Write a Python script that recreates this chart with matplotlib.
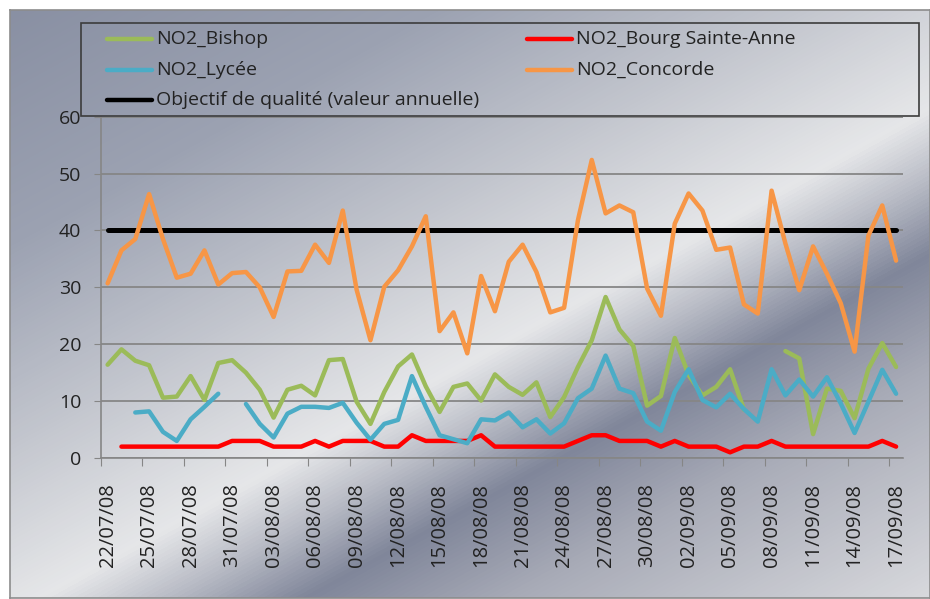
import numpy as np
import pandas as pd
import matplotlib
matplotlib.use("Agg")
import matplotlib.pyplot as plt
from matplotlib.colors import LinearSegmentedColormap
from matplotlib.lines import Line2D
from matplotlib.patches import Rectangle

nan = np.nan

# daily categories 22/07/08 -> 17/09/08
dates = pd.date_range("2008-07-22", "2008-09-17", freq="D")
date_labels = [d.strftime("%d/%m/%y") for d in dates]

bishop = [16.4, 19.1, 17.1, 16.3, 10.6, 10.8, 14.4, 10.2, 16.7, 17.2,
          15.0, 12.0, 7.1, 12.0, 12.7, 11.0, 17.2, 17.4, 9.9, 6.0,
          11.6, 16.1, 18.2, 12.6, 8.1, 12.5, 13.1, 10.1, 14.7, 12.5,
          11.1, 13.3, 7.2, 10.7, 16.0, 20.7, 28.3, 22.6, 19.7, 9.2,
          10.9, 21.1, 14.6, 11.0, 12.5, 15.6, 8.5, nan, nan, 18.8,
          17.5, 4.2, 12.2, 11.8, 7.0, 15.7, 20.2, 16.0]

bourg = [nan, 2, 2, 2, 2, 2, 2, 2, 2, 3,
         3, 3, 2, 2, 2, 3, 2, 3, 3, 3,
         2, 2, 4, 3, 3, 3, 3, 4, 2, 2,
         2, 2, 2, 2, 3, 4, 4, 3, 3, 3,
         2, 3, 2, 2, 2, 1, 2, 2, 3, 2,
         2, 2, 2, 2, 2, 2, 3, 2]

lycee = [nan, nan, 8.0, 8.2, 4.6, 3.0, 6.8, 9.0, 11.3, nan,
         9.5, 6.0, 3.6, 7.8, 9.0, 9.0, 8.8, 9.7, 6.2, 3.2,
         6.0, 6.7, 14.4, 9.0, 4.0, 3.3, 2.6, 6.8, 6.6, 8.0,
         5.4, 6.8, 4.3, 6.1, 10.5, 12.2, 18.0, 12.2, 11.4, 6.4,
         4.8, 11.6, 15.6, 10.2, 8.9, 11.3, 8.6, 6.4, 15.6, 11.0,
         13.8, 10.8, 14.2, 9.6, 4.4, 9.9, 15.5, 11.3]

concorde = [30.7, 36.5, 38.5, 46.4, 38.5, 31.7, 32.4, 36.5, 30.5, 32.5,
            32.7, 30.0, 24.8, 32.8, 32.9, 37.5, 34.3, 43.5, 29.6, 20.7,
            30.1, 33.0, 37.2, 42.5, 22.3, 25.6, 18.4, 32.0, 25.8, 34.5,
            37.5, 32.7, 25.6, 26.4, 41.8, 52.4, 43.0, 44.4, 43.2, 29.8,
            25.0, 41.2, 46.5, 43.5, 36.6, 37.0, 27.0, 25.4, 47.0, 37.7,
            29.5, 37.2, 32.4, 27.2, 18.7, 39.1, 44.4, 34.7]

objectif = [40] * len(dates)

plt.rcParams['font.family'] = ['Open Sans', 'DejaVu Sans']
FS = 14
FS_X = 14.5
TXT = '#222222'

W, H = 930, 599
fig = plt.figure(figsize=(W / 100, H / 100), dpi=100)
fig.patch.set_facecolor('white')


def fx(px):
    return px / W


def fy(py):
    return 1 - py / H


# chrome-like background of the chart area
bg = fig.add_axes([fx(10), fy(598), 920 / W, 588 / H])
xx, yy = np.meshgrid(np.arange(10, 930), np.arange(10, 598))
u = 0.55 * xx + yy
stops = [(0, '#888fa2'), (250, '#9ca2b2'), (450, '#c3c6ce'), (620, '#e6e7e9'),
         (690, '#b8bbc5'), (765, '#80869a'), (880, '#a8abb7'), (1110, '#d8d9dd')]
cmap = LinearSegmentedColormap.from_list('chrome', [(p / 1110, c) for p, c in stops])
bg.imshow(u / 1110, cmap=cmap, vmin=0, vmax=1, aspect='auto', interpolation='bilinear')
bg.set_xticks([])
bg.set_yticks([])
for s in bg.spines.values():
    s.set_color('#8c8c8c')
    s.set_linewidth(1.2)

# plot area
ax = fig.add_axes([fx(100.7), fy(458), (903 - 100.7) / W, (458 - 116.7) / H])
ax.patch.set_alpha(0)
x = np.arange(len(dates))

kw = dict(lw=3.2, solid_joinstyle='round', solid_capstyle='round')
ax.plot(x, objectif, color='black', lw=3.6, zorder=2, solid_capstyle='round')
ax.plot(x, bishop, color='#9bbb59', zorder=3, **kw)
ax.plot(x, bourg, color='#ff0000', zorder=4, **kw)
ax.plot(x, lycee, color='#4bacc6', zorder=5, **kw)
ax.plot(x, concorde, color='#f79646', zorder=6, **kw)

ax.set_xlim(-0.5, len(dates) - 0.5)
ax.set_ylim(0, 60)
ax.set_yticks(range(0, 61, 10))
ax.yaxis.grid(True, color='#868686', lw=1.3)
ax.set_axisbelow(True)

# tick marks between categories, labels centred on categories
ax.set_xticks(np.arange(-0.5, len(dates), 3))
ax.set_xticklabels([])
ax.set_xticks(np.arange(0, len(dates), 3), minor=True)
ax.set_xticklabels(date_labels[::3], minor=True, rotation=90, fontsize=FS_X,
                   color=TXT)
ax.tick_params(axis='x', which='major', direction='out', length=6, color='#868686')
ax.tick_params(axis='x', which='minor', length=0, pad=18)
ax.tick_params(axis='y', direction='out', length=5, color='#868686', pad=9,
               labelsize=FS, labelcolor=TXT)

for side in ('top', 'right'):
    ax.spines[side].set_visible(False)
for side in ('left', 'bottom'):
    ax.spines[side].set_color('#868686')
    ax.spines[side].set_linewidth(1.2)

# legend box
fig.patches.append(Rectangle((fx(81), fy(116)), (919 - 81) / W, (116 - 23) / H,
                             transform=fig.transFigure, facecolor='none',
                             edgecolor='#3c3c3c', lw=1.2, zorder=10))
legend_items = [
    ('NO2_Bishop', '#9bbb59', 107, 39),
    ('NO2_Lycée', '#4bacc6', 107, 70),
    ('Objectif de qualité (valeur annuelle)', 'black', 107, 100),
    ('NO2_Bourg Sainte-Anne', '#ff0000', 527, 39),
    ('NO2_Concorde', '#f79646', 527, 70),
]
for label, color, px, py in legend_items:
    fig.lines.append(Line2D([fx(px), fx(px + 45)], [fy(py), fy(py)],
                            transform=fig.transFigure, color=color, lw=3.2,
                            solid_capstyle='round'))
    fig.text(fx(px + 49), fy(py), label, fontsize=FS, color=TXT,
             va='center', ha='left')

fig.savefig('out.png', dpi=100)
